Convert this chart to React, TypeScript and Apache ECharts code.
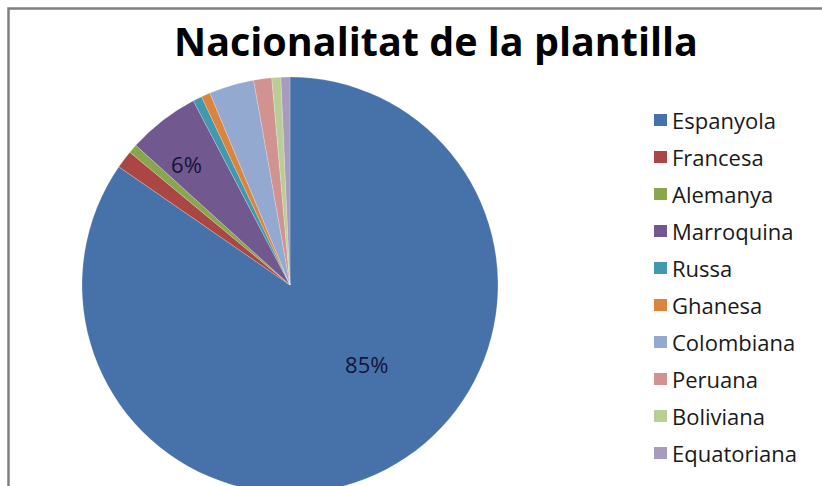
import React, { useEffect, useRef } from "react";
import * as echarts from "echarts";

const categories = [
  "Espanyola",
  "Francesa",
  "Alemanya",
  "Marroquina",
  "Russa",
  "Ghanesa",
  "Colombiana",
  "Peruana",
  "Boliviana",
  "Equatoriana",
];
const values = [121, 2, 1, 8, 1, 1, 5, 2, 1, 1];
const colors = [
  "#4672A9",
  "#AA4643",
  "#89A54E",
  "#71588F",
  "#4198AF",
  "#DB843D",
  "#93A9CF",
  "#D19392",
  "#B9CD96",
  "#A99BBD",
];
const titleText = "Nacionalitat de la plantilla";

export default function App() {
  const ref = useRef<HTMLDivElement>(null);
  useEffect(() => {
    document.body.style.margin = "0";
    if (!ref.current) return;
    const chart = echarts.init(ref.current, null, { renderer: "svg" });
    const total = values.reduce((a, b) => a + b, 0);
    const data = categories.map((name, i) => ({
      name,
      value: values[i],
      itemStyle: { color: colors[i] },
      label: { show: (values[i] / total) * 100 >= 5 },
    }));
    chart.setOption({
      animation: false,
      backgroundColor: "#ffffff",
      graphic: [
        {
          type: "rect",
          shape: { x: 8.5, y: 8.5, width: 900, height: 600 },
          style: { fill: "none", stroke: "#808080", lineWidth: 2.5 },
          silent: true,
        },
      ],
      title: {
        text: titleText,
        left: 436,
        textAlign: "center",
        top: 21,
        padding: 0,
        textStyle: {
          fontFamily: "Open Sans",
          fontWeight: "bold",
          fontSize: 39.5,
          color: "#000000",
        },
      },
      legend: {
        orient: "vertical",
        left: 654,
        top: 109,
        padding: 0,
        icon: "rect",
        itemWidth: 13,
        itemHeight: 12,
        itemGap: 15,
        itemTextGap: 8,
        itemStyle: { borderWidth: 0 },
        selectedMode: false,
        textStyle: {
          fontFamily: "Open Sans",
          fontSize: 22,
          color: "#1a1a1a",
        },
        data: categories,
      },
      series: [
        {
          type: "pie",
          center: [290, 285],
          radius: 208,
          startAngle: 90,
          clockwise: true,
          avoidLabelOverlap: false,
          emphasis: { disabled: true },
          itemStyle: { borderColor: "rgba(255,255,255,0.35)", borderWidth: 0.6 },
          label: {
            position: "inside",
            formatter: (p: any) => Math.round(p.percent) + "%",
            fontFamily: "Open Sans",
            fontSize: 22,
            color: "#14143a",
          },
          labelLine: { show: false },
          labelLayout: (p: any) => {
            if (p.dataIndex === 0) return { dx: 27, dy: -16 };
            if (p.dataIndex === 3) return { dx: -38, dy: -36 };
            return {};
          },
          data,
        },
      ],
    });
    return () => chart.dispose();
  }, []);
  return <div ref={ref} style={{ width: 822, height: 486 }} />;
}
